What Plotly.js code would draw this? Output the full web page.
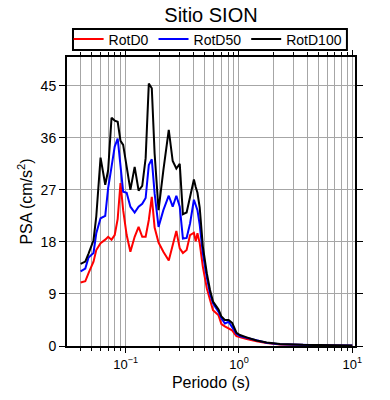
<!DOCTYPE html>
<html>
<head>
<meta charset="utf-8">
<script src="https://cdn.plot.ly/plotly-3.0.1.min.js"></script>
<style>html,body{margin:0;padding:0;background:#fff;}#chart{width:390px;height:400px;}</style>
</head>
<body>
<div id="chart"></div>
<script>
// Period (s)
const periods = [0.040,0.044,0.047,0.052,0.055,0.060,0.066,0.070,0.075,0.080,0.085,0.090,0.095,0.102,0.11,0.12,0.13,0.14,0.15,0.16,0.17,0.18,0.195,0.215,0.24,0.26,0.28,0.30,0.32,0.345,0.37,0.40,0.415,0.43,0.45,0.48,0.52,0.555,0.59,0.66,0.70,0.75,0.81,0.87,0.95,1.02,1.17,1.43,1.75,2.30,3.67,6.35,10];
// PSA (cm/s2)
const rotD0 = [11.0,11.2,12.6,14.6,16.6,17.8,18.4,18.9,18.4,19.2,22.0,28.2,23.5,19.2,16.3,18.9,20.6,18.9,18.9,21.8,25.8,20.5,17.9,16.3,14.8,17.2,19.9,16.9,16.1,16.6,19.2,19.6,18.1,19.5,17.8,13.7,10.0,8.0,6.2,5.3,3.8,3.4,3.1,2.7,1.7,1.5,1.2,0.8,0.5,0.28,0.15,0.09,0.06];
const rotD50 = [12.9,13.4,15.3,16.1,19.5,22.1,22.5,27.3,31.0,34.5,35.9,31.6,26.7,26.5,24.1,23.1,24.1,24.6,25.6,31.3,32.3,26.4,20.6,23.5,26.0,24.1,26.0,24.1,18.6,18.7,21.2,25.3,24.3,23.5,21.0,16.0,11.9,9.1,7.4,5.9,4.8,3.9,4.2,3.2,2.1,1.7,1.4,0.9,0.55,0.3,0.18,0.1,0.07];
const rotD100 = [14.2,14.6,16.0,18.3,22.4,32.6,27.9,30.4,39.5,39.0,38.8,35.5,34.8,31.2,27.0,31.0,26.9,27.7,32.5,45.4,44.6,33.3,23.5,30.4,37.4,32.0,30.7,31.5,22.8,23.1,25.8,28.8,27.5,26.5,24.0,17.2,12.6,9.7,7.7,6.3,5.1,4.5,4.5,4.0,2.3,1.9,1.5,0.95,0.6,0.35,0.2,0.12,0.08];

const seriesNames = ["RotD0","RotD50","RotD100"];
const xMajorTicks = [0.1, 1, 10];
const xMajorLabels = ["10<sup>\u22121</sup>","10<sup>0</sup>","10<sup>1</sup>"];
const xMinorTicks = [0.04,0.05,0.06,0.07,0.08,0.09,0.2,0.3,0.4,0.5,0.6,0.7,0.8,0.9,2,3,4,5,6,7,8,9];
const yTicks = [0,9,18,27,36,45];

const font = "Liberation Sans, Arial, Helvetica, sans-serif";
const colors = ["#ff0000","#0000ff","#000000"];
const data = [rotD0, rotD50, rotD100].map((v,i)=>({
  x: periods, y: v, type:"scatter", mode:"lines", name: seriesNames[i],
  line:{color:colors[i], width:2}
}));

const layout = {
  width:390, height:400,
  margin:{l:67, r:35, t:57, b:54},
  paper_bgcolor:"#fff", plot_bgcolor:"#fff",
  font:{family:font, color:"#000"},
  title:{text:"Sitio SION", font:{size:20, family:font, color:"#000"}, x:0.5, xref:"paper", y:0.963, yref:"container", yanchor:"middle"},
  showlegend:true,
  legend:{orientation:"h", x:0.49, xanchor:"center", y:1.0606, yanchor:"middle",
    bgcolor:"rgba(0,0,0,0)", borderwidth:0, font:{size:14, family:font}, itemwidth:30, traceorder:"normal"},
  shapes:[{type:"rect", xref:"paper", yref:"paper", x0:0.0208, x1:0.972, y0:1.0242, y1:1.0969,
    line:{color:"#000", width:2}, fillcolor:"rgba(0,0,0,0)", layer:"below"}],
  xaxis:{type:"log", range:[-1.518, 1.024], tickvals:xMajorTicks, ticktext:xMajorLabels,
    ticks:"outside", ticklen:5, tickwidth:1, tickcolor:"#000",
    showline:true, linecolor:"#000", linewidth:2, mirror:"ticks",
    showgrid:true, gridcolor:"#a6a6a6", gridwidth:1, zeroline:false,
    tickfont:{size:13, family:font},
    minor:{tickvals:xMinorTicks, ticks:"outside", ticklen:3, tickcolor:"#000", showgrid:true, gridcolor:"#a6a6a6", gridwidth:1},
    title:{text:"Periodo (s)", font:{size:16, family:font}, standoff:6}},
  yaxis:{range:[0,50], tickvals:yTicks, ticks:"outside", ticklen:6, tickcolor:"#000",
    showline:true, linecolor:"#000", linewidth:2, mirror:"ticks",
    showgrid:true, gridcolor:"#a6a6a6", gridwidth:1, zeroline:false,
    tickfont:{size:14, family:font},
    title:{text:"PSA (cm/s<sup>2</sup>)", font:{size:16, family:font}, standoff:4}}
};
Plotly.newPlot("chart", data, layout, {displayModeBar:false, staticPlot:true});
</script>
</body>
</html>
